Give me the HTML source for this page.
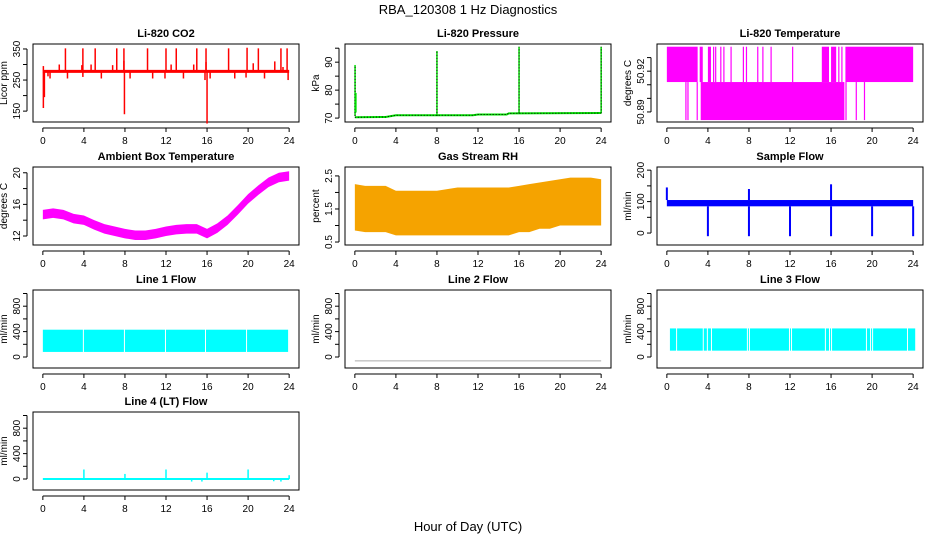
<!DOCTYPE html>
<html><head><meta charset="utf-8"><style>
html,body{margin:0;padding:0;background:#fff;}
svg{display:block;font-family:"Liberation Sans",sans-serif;}
</style></head><body>
<svg id="chart" width="936" height="540" viewBox="0 0 936 540" xmlns="http://www.w3.org/2000/svg">
<text x="468" y="14" font-size="13" text-anchor="middle">RBA_120308  1 Hz Diagnostics</text>
<text x="468" y="531" font-size="13" text-anchor="middle">Hour of Day (UTC)</text>
</svg>
<script>
// ---------- data ----------
const xTicks = [0,4,8,12,16,20,24];
// CO2
const co2Base = 278;
const co2UpSpikes = [[2.2,352],[3.9,352],[5.1,352],[7.2,352],[7.9,352],[10.2,352],[12.0,352],[13.0,352],[15.0,352],[15.9,352],[18.1,352],[19.9,354],[21.0,352],[23.2,352],[23.8,352],[1.6,300],[3.8,298],[4.7,300],[6.8,298],[7.9,312],[12.5,300],[14.7,300],[15.9,308],[20.5,304],[22.6,310],[23.4,292],[0.05,295]];
const co2DownSpikes = [[0.05,160],[0.15,195],[0.7,255],[2.4,255],[3.9,260],[5.7,255],[7.95,140],[8.5,255],[10.7,255],[11.9,255],[13.7,255],[16.0,110],[15.8,250],[16.3,255],[18.7,255],[19.8,258],[21.6,255],[23.9,250],[0.5,262]];
// Pressure
const presHours = [0,3,4,11.5,12,14.8,15,24];
const presBase = [70.3,70.4,71.0,71.0,71.3,71.3,71.7,71.8];
const presSpikes = [[0.02,89],[8.0,94],[16.0,95.5],[24.0,95.5]];
// Li-820 temperature
const tempLevels = [50.938,50.912,50.884];
const tempUpperIntervals = [[0,3.0],[3.2,3.5],[4.0,4.3],[4.5,4.55],[4.7,4.75],[5.2,5.3],[5.5,5.55],[6.2,6.25],[7.4,7.45],[7.7,7.75],[8.8,8.85],[9.3,9.4],[10.1,10.2],[12.2,12.25],[15.1,15.8],[16.0,16.5],[16.7,16.75],[17.0,17.05],[17.4,24]];
const tempLowerIntervals = [[1.8,1.85],[2.0,2.05],[2.9,3.0],[3.3,17.3],[17.4,17.45],[18.4,18.45],[19.2,19.25]];
// Ambient box temperature
const ambHours = [0,1,2,3,4,5,6,7,8,9,10,11,12,13,14,15,16,17,18,19,20,21,22,23,24];
const ambTemp = [14.7,14.9,14.7,14.2,14.0,13.4,12.9,12.6,12.3,12.1,12.1,12.3,12.6,12.8,12.9,12.9,12.3,13.0,14.0,15.3,16.7,17.8,18.8,19.4,19.6];
const ambHalfWidth = 0.6;
// Gas stream RH
const rhHours = [0,1,2,3,4,5,6,7,8,9,10,11,12,13,14,15,16,17,18,19,20,21,22,23,24];
const rhUpper = [2.25,2.2,2.2,2.2,2.05,2.05,2.05,2.05,2.05,2.1,2.15,2.15,2.15,2.15,2.15,2.15,2.2,2.25,2.3,2.35,2.4,2.45,2.45,2.45,2.4];
const rhLower = [0.85,0.8,0.8,0.8,0.7,0.7,0.7,0.7,0.7,0.7,0.7,0.7,0.7,0.7,0.7,0.7,0.8,0.8,0.9,0.9,1.0,1.0,1.0,1.0,1.0];
// Sample flow
const sfLower = 85, sfUpper = 105;
const sfDips = [[4,-10],[8,-10],[12,-10],[16,-10],[20,-10],[24,-10]];
const sfSpikes = [[0,145],[8,140],[16,155]];
// Line flows
const l1Range = [80,430];
const l1Gaps = [3.9,7.9,11.9,15.8,19.8,23.9];
const l3Range = [100,450];
const l3Gaps = [0.9,3.5,3.9,4.3,7.8,8.0,11.9,12.1,15.4,15.8,16.0,19.4,19.8,20.0,23.4];
const l2Value = -60;
const l4Base = 0;
const l4Spikes = [[4,150],[8,80],[12,150],[16,100],[20,150],[24,60],[14.5,-40],[15.5,-40],[22.5,-35],[23.2,-40]];

// ---------- layout ----------
const NS = "http://www.w3.org/2000/svg";
const svg = document.getElementById('chart');
const colX = [33,345,657], rowY = [44,167,290,412], PW = 266, PH = 78;
function mk(tag, attrs, parent){const e=document.createElementNS(NS,tag);for(const k in attrs)e.setAttribute(k,attrs[k]);(parent||svg).appendChild(e);return e;}

function panel(col,row,ylim,title,ytitle,yticks,ylabels,name){
  const x0=colX[col], y0=rowY[row];
  const sx=h=>x0+PW*(h+0.96)/25.92;
  const sy=v=>y0+PH-(v-ylim[0])/(ylim[1]-ylim[0])*PH;
  const g=mk('g',{});
  
  
  const box=mk('rect',{x:x0,y:y0,width:PW,height:PH,fill:'none',stroke:'#000','stroke-width':1},g);
  
  
  const t=mk('text',{x:x0+PW/2,y:y0-7,'font-size':11,'font-weight':'bold','text-anchor':'middle'},g);
  t.textContent=title;
  
  
  const xb=y0+PH;
  const xa=mk('line',{x1:sx(0),x2:sx(24),y1:xb+6,y2:xb+6,stroke:'#000'},g);
  
  
  xTicks.forEach(h=>{
    mk('line',{x1:sx(h),x2:sx(h),y1:xb+6,y2:xb+10,stroke:'#000'},g);
    const l=mk('text',{x:sx(h),y:xb+22,'font-size':10,'text-anchor':'middle'},g);
    l.textContent=h;
    
    
  });
  const ya=mk('line',{x1:x0-6,x2:x0-6,y1:sy(yticks[0]),y2:sy(yticks[yticks.length-1]),stroke:'#000'},g);
  
  
  yticks.forEach(v=>{
    mk('line',{x1:x0-10,x2:x0-6,y1:sy(v),y2:sy(v),stroke:'#000'},g);
  });
  ylabels.forEach(v=>{
    const lx=x0-13, ly=sy(v);
    const l=mk('text',{x:lx,y:ly,'font-size':10,'text-anchor':'middle',transform:`rotate(-90 ${lx} ${ly})`},g);
    l.textContent=v;
    
    
  });
  const yx=x0-26, yy=y0+PH/2;
  const yt=mk('text',{x:yx,y:yy,'font-size':10,'text-anchor':'middle',transform:`rotate(-90 ${yx} ${yy})`},g);
  yt.textContent=ytitle;
  
  
  const data=mk('g',{},g);
  
  
  return {sx,sy,g:data};
}
function vline(p,h,v1,v2,color,w,extra){return mk('line',Object.assign({x1:p.sx(h),x2:p.sx(h),y1:p.sy(v1),y2:p.sy(v2),stroke:color,'stroke-width':w||1.5},extra||{}),p.g);}
function band(p,hs,lo,hi,fill){
  let pts=hs.map((h,i)=>p.sx(h)+','+p.sy(hi[i]));
  pts=pts.concat(hs.slice().reverse().map((h,i)=>p.sx(h)+','+p.sy(lo[hs.length-1-i])));
  return mk('polygon',{points:pts.join(' '),fill:fill},p.g);
}
function gappedBand(p,h0,h1,range,gaps,color){
  const edges=[h0].concat(gaps,[h1]);
  for(let i=0;i<edges.length-1;i++){
    const a=p.sx(edges[i])+(i>0?1:0), b=p.sx(edges[i+1]);
    const r=mk('rect',{x:a,y:p.sy(range[1]),width:Math.max(0,b-a),height:p.sy(range[0])-p.sy(range[1]),fill:color},p.g);
    
    
  }
}

// CO2
{const p=panel(0,0,[115,366],'Li-820 CO2','Licor ppm',[150,200,250,300,350],[150,250,350],'co2');
 co2UpSpikes.forEach(s=>vline(p,s[0],co2Base,s[1],'#f00',1.5));
 co2DownSpikes.forEach(s=>vline(p,s[0],co2Base,s[1],'#f00',1.5));
 const l=mk('line',{x1:p.sx(0),x2:p.sx(24),y1:p.sy(co2Base),y2:p.sy(co2Base),stroke:'#f00','stroke-width':3},p.g);
 
 }
// Pressure
{const p=panel(1,0,[68.6,96.5],'Li-820 Pressure','kPa',[70,75,80,85,90,95],[70,80,90],'pressure');
 const pl=mk('polyline',{points:presHours.map((h,i)=>p.sx(h)+','+p.sy(presBase[i])).join(' '),fill:'none',stroke:'#00e000','stroke-width':2},p.g);
 
 
 mk('polyline',{points:presHours.map((h,i)=>p.sx(h)+','+p.sy(presBase[i])).join(' '),fill:'none',stroke:'#000','stroke-width':1,'stroke-dasharray':'1 2'},p.g);
 presSpikes.forEach(s=>{vline(p,s[0],presBase[0]+ (s[0]>12?1.4:0.5),s[1],'#00e000',1.5);vline(p,s[0],presBase[0]+(s[0]>12?1.4:0.5),s[1],'#000',1,{'stroke-dasharray':'1 2'});});
 vline(p,0.1,72,79,'#00e000',1.5);}
// Li-820 temperature
{const p=panel(2,0,[50.8826,50.940],'Li-820 Temperature','degrees C',[50.89,50.9,50.91,50.92,50.93],[50.89,50.92],'temperature');
 tempUpperIntervals.forEach(iv=>{const r=mk('rect',{x:p.sx(iv[0]),y:p.sy(tempLevels[0]),width:Math.max(1.2,p.sx(iv[1])-p.sx(iv[0])),height:p.sy(tempLevels[1])-p.sy(tempLevels[0]),fill:'#f0f'},p.g);
  
  });
 tempLowerIntervals.forEach(iv=>{const r=mk('rect',{x:p.sx(iv[0]),y:p.sy(tempLevels[1]),width:Math.max(1.2,p.sx(iv[1])-p.sx(iv[0])),height:p.sy(tempLevels[2])-p.sy(tempLevels[1]),fill:'#f0f'},p.g);
  
  });}
// Ambient
{const p=panel(0,1,[10.86,20.73],'Ambient Box Temperature','degrees C',[12,14,16,18,20],[12,16,20],'ambient');
 const b=band(p,ambHours,ambTemp.map(v=>v-ambHalfWidth),ambTemp.map(v=>v+ambHalfWidth),'#f0f');
 
 }
// RH
{const p=panel(1,1,[0.41,2.77],'Gas Stream RH','percent',[0.5,1,1.5,2,2.5],[0.5,1.5,2.5],'rh');
 const b=band(p,rhHours,rhLower,rhUpper,'#f5a300');
 
 }
// Sample flow
{const p=panel(2,1,[-38,210],'Sample Flow','ml/min',[0,50,100,150,200],[0,100,200],'sample-flow');
 const r=mk('rect',{x:p.sx(0),y:p.sy(sfUpper),width:p.sx(24)-p.sx(0),height:p.sy(sfLower)-p.sy(sfUpper),fill:'#00f'},p.g);
 
 
 sfDips.forEach(s=>vline(p,s[0],sfLower,s[1],'#00f',2));
 sfSpikes.forEach(s=>vline(p,s[0],sfUpper,s[1],'#00f',2));}
const flowTicks=[0,200,400,600,800,1000], flowLabels=[0,400,800];
// Line 1
{const p=panel(0,2,[-173,1055],'Line 1 Flow','ml/min',flowTicks,flowLabels,'line1');
 gappedBand(p,0,24,l1Range,l1Gaps,'#0ff');}
// Line 2
{const p=panel(1,2,[-173,1055],'Line 2 Flow','ml/min',flowTicks,flowLabels,'line2');
 const l=mk('line',{x1:p.sx(0),x2:p.sx(24),y1:p.sy(l2Value),y2:p.sy(l2Value),stroke:'#aaa','stroke-width':1},p.g);
 
 }
// Line 3
{const p=panel(2,2,[-173,1055],'Line 3 Flow','ml/min',flowTicks,flowLabels,'line3');
 gappedBand(p,0.3,24.2,l3Range,l3Gaps,'#0ff');}
// Line 4
{const p=panel(0,3,[-173,1055],'Line 4 (LT) Flow','ml/min',flowTicks,flowLabels,'line4');
 const l=mk('line',{x1:p.sx(0),x2:p.sx(24),y1:p.sy(l4Base),y2:p.sy(l4Base),stroke:'#0ff','stroke-width':2},p.g);
 
 
 l4Spikes.forEach(s=>vline(p,s[0],l4Base,s[1],'#0ff',1.5));}
</script>
</body></html>
